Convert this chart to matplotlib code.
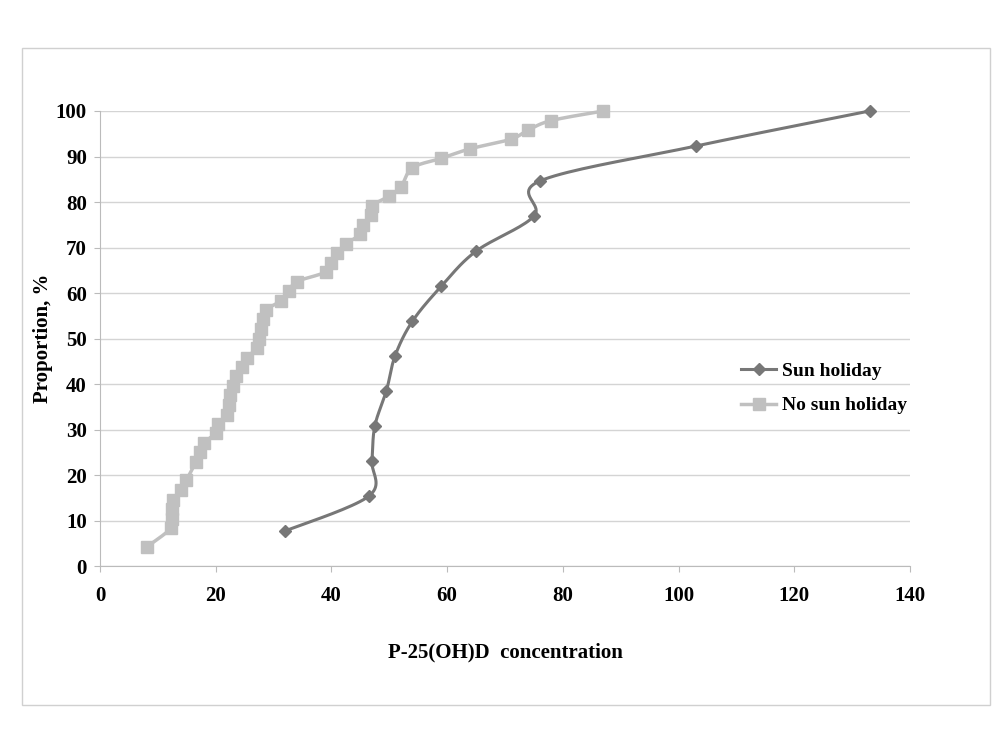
import numpy as np
import matplotlib
matplotlib.use("Agg")
import matplotlib.pyplot as plt
from matplotlib.patches import Rectangle

# Data
sun_x = [32, 46.5, 47, 47.5, 49.5, 51, 54, 59, 65, 75, 76, 103, 133]
sun_y = [7.7, 15.4, 23.1, 30.8, 38.5, 46.2, 53.8, 61.5, 69.2, 76.9, 84.6, 92.3, 100]

nosun_x = [8.1, 12.3, 12.4, 12.5, 12.6, 14.0, 14.9, 16.6, 17.3, 18.0, 20.0, 20.4, 22.0,
           22.3, 22.5, 23.0, 23.5, 24.5, 25.4, 27.1, 27.5, 27.8, 28.2, 28.7, 31.3, 32.7,
           34.0, 39.0, 40.0, 41.0, 42.5, 45.0, 45.5, 46.8, 47.0, 50.0, 52.0, 54.0, 59.0,
           64.0, 71.0, 74.0, 78.0, 87.0]
nosun_y = [4.2, 8.3, 10.4, 12.5, 14.6, 16.7, 18.8, 22.9, 25.0, 27.1, 29.2, 31.3, 33.3,
           35.4, 37.5, 39.6, 41.7, 43.8, 45.8, 47.9, 50.0, 52.1, 54.2, 56.3, 58.3, 60.4,
           62.5, 64.6, 66.7, 68.8, 70.8, 72.9, 75.0, 77.1, 79.2, 81.3, 83.3, 87.5, 89.6,
           91.7, 93.8, 95.8, 97.9, 100.0]

x_ticks = [0, 20, 40, 60, 80, 100, 120, 140]
y_ticks = [0, 10, 20, 30, 40, 50, 60, 70, 80, 90, 100]


def smooth(xs, ys, n=20):
    """Bezier smoothing similar to Excel smoothed lines."""
    x = np.asarray(xs, float)
    y = np.asarray(ys, float)
    px = np.concatenate([[x[0]], x, [x[-1]]])
    py = np.concatenate([[y[0]], y, [y[-1]]])
    ox, oy = [], []
    t = np.linspace(0, 1, n, endpoint=False)
    tension = 1 / 6.0
    for i in range(1, len(px) - 2):
        p0 = np.array([px[i], py[i]])
        p3 = np.array([px[i + 1], py[i + 1]])
        c1 = p0 + (np.array([px[i + 1], py[i + 1]]) - np.array([px[i - 1], py[i - 1]])) * tension
        c2 = p3 - (np.array([px[i + 2], py[i + 2]]) - np.array([px[i], py[i]])) * tension
        b = ((1 - t) ** 3)[:, None] * p0 + (3 * (1 - t) ** 2 * t)[:, None] * c1 + \
            (3 * (1 - t) * t ** 2)[:, None] * c2 + (t ** 3)[:, None] * p3
        ox.extend(b[:, 0]); oy.extend(b[:, 1])
    ox.append(x[-1]); oy.append(y[-1])
    return ox, oy


plt.rcParams['font.family'] = ['Liberation Serif', 'DejaVu Serif']
plt.rcParams['font.weight'] = 'bold'

fig = plt.figure(figsize=(10, 7.5), dpi=100)
fig.patches.append(Rectangle((0.022, 0.06), 0.968, 0.876, transform=fig.transFigure,
                             fill=False, edgecolor='#d0d0d0', linewidth=1.0))

ax = fig.add_axes([0.1, 0.2453, 0.81, 0.6067])

dark = '#777777'
light = '#c0c0c0'

sx, sy = smooth(nosun_x, nosun_y)
ax.plot(sx, sy, color=light, lw=2.5, zorder=3, clip_on=False)
ax.plot(nosun_x, nosun_y, ls='none', marker='s', ms=9, color=light, zorder=4, clip_on=False)

sx, sy = smooth(sun_x, sun_y)
ax.plot(sx, sy, color=dark, lw=2.2, zorder=5, clip_on=False)
ax.plot(sun_x, sun_y, ls='none', marker='D', ms=6.5, color=dark, zorder=6, clip_on=False)

# legend proxies
h1, = ax.plot([], [], color=dark, lw=2.2, marker='D', ms=6.5, label='Sun holiday')
h2, = ax.plot([], [], color=light, lw=2.5, marker='s', ms=9, label='No sun holiday')
ax.legend(handles=[h1, h2], loc='center left', bbox_to_anchor=(0.77, 0.39),
          frameon=False, handlelength=1.8, handletextpad=0.3,
          labelspacing=0.85, prop={'weight': 'bold', 'size': 14})

ax.set_xlim(0, 140)
ax.set_ylim(0, 100)
ax.set_xticks(x_ticks)
ax.set_yticks(y_ticks)
ax.grid(axis='y', color='#d4d4d4', lw=1)
ax.set_axisbelow(True)
for s in ['top', 'right']:
    ax.spines[s].set_visible(False)
ax.spines['bottom'].set_color('#bbbbbb')
ax.spines['left'].set_color('#bbbbbb')
ax.tick_params(axis='x', direction='out', length=4.5, color='#bbbbbb', labelsize=15, pad=10)
ax.tick_params(axis='y', direction='out', length=4.5, color='#bbbbbb', labelsize=15, pad=5)
for lab in ax.get_xticklabels() + ax.get_yticklabels():
    lab.set_fontweight('bold')

ax.set_xlabel('P-25(OH)D  concentration', fontsize=15, fontweight='bold', labelpad=26)
ax.set_ylabel('Proportion, %', fontsize=15, fontweight='bold', labelpad=2)

fig.savefig('out.png', dpi=100)
